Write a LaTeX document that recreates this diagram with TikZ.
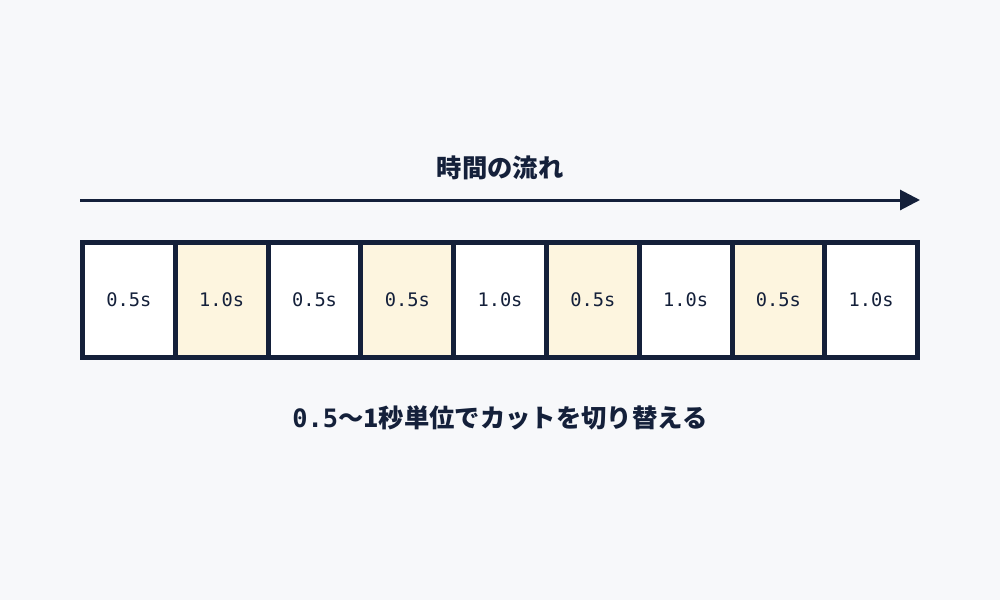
\documentclass[tikz,border=0pt]{standalone}
\usepackage{fontspec}
\newfontfamily\jpfont{Noto Sans CJK JP}
\setmonofont{DejaVu Sans Mono}
\usetikzlibrary{arrows.meta}
\definecolor{cBG}{RGB}{247, 248, 250}
\definecolor{cN}{RGB}{20, 32, 58}
\definecolor{cY}{RGB}{253, 245, 223}
\tikzstyle{Cell}=[rectangle,
		draw=cN,
		line width=3.75pt,
		fill=white,
		minimum width=69.6pt,
		minimum height=86.25pt,
		inner sep=0pt,
		text=cN,
		font=\ttfamily\fontsize{14}{16}\selectfont]
\tikzstyle{CellY}=[Cell,
		fill=cY]
\tikzstyle{Caption}=[text=cN,
		inner sep=0pt,
		font=\jpfont\bfseries\fontsize{19}{22}\selectfont]
\begin{document}
\begin{tikzpicture}[x=0.75pt,y=-0.75pt]
  \fill [cBG] (0,0) rectangle (1000,600);

  % time arrow
  \node [Caption] (title) at (500,168) {時間の流れ};
  \coordinate (start) at (80,200);
  \coordinate (stop) at (920,200);
  \draw [cN,line width=2.25pt,-{Triangle[length=15pt,width=15pt]}] (start) -- (stop);

  % cuts
  \node [Cell]  (c1) at (128.9,300) {0.5s};
  \node [CellY] (c2) at (221.7,300) {1.0s};
  \node [Cell]  (c3) at (314.5,300) {0.5s};
  \node [CellY] (c4) at (407.3,300) {0.5s};
  \node [Cell]  (c5) at (500.0,300) {1.0s};
  \node [CellY] (c6) at (592.8,300) {0.5s};
  \node [Cell]  (c7) at (685.6,300) {1.0s};
  \node [CellY] (c8) at (778.4,300) {0.5s};
  \node [Cell]  (c9) at (871.1,300) {1.0s};

  \node [Caption] (note) at (500,418) {{\ttfamily\bfseries 0.5}〜1秒単位でカットを切り替える};
\end{tikzpicture}
\end{document}
